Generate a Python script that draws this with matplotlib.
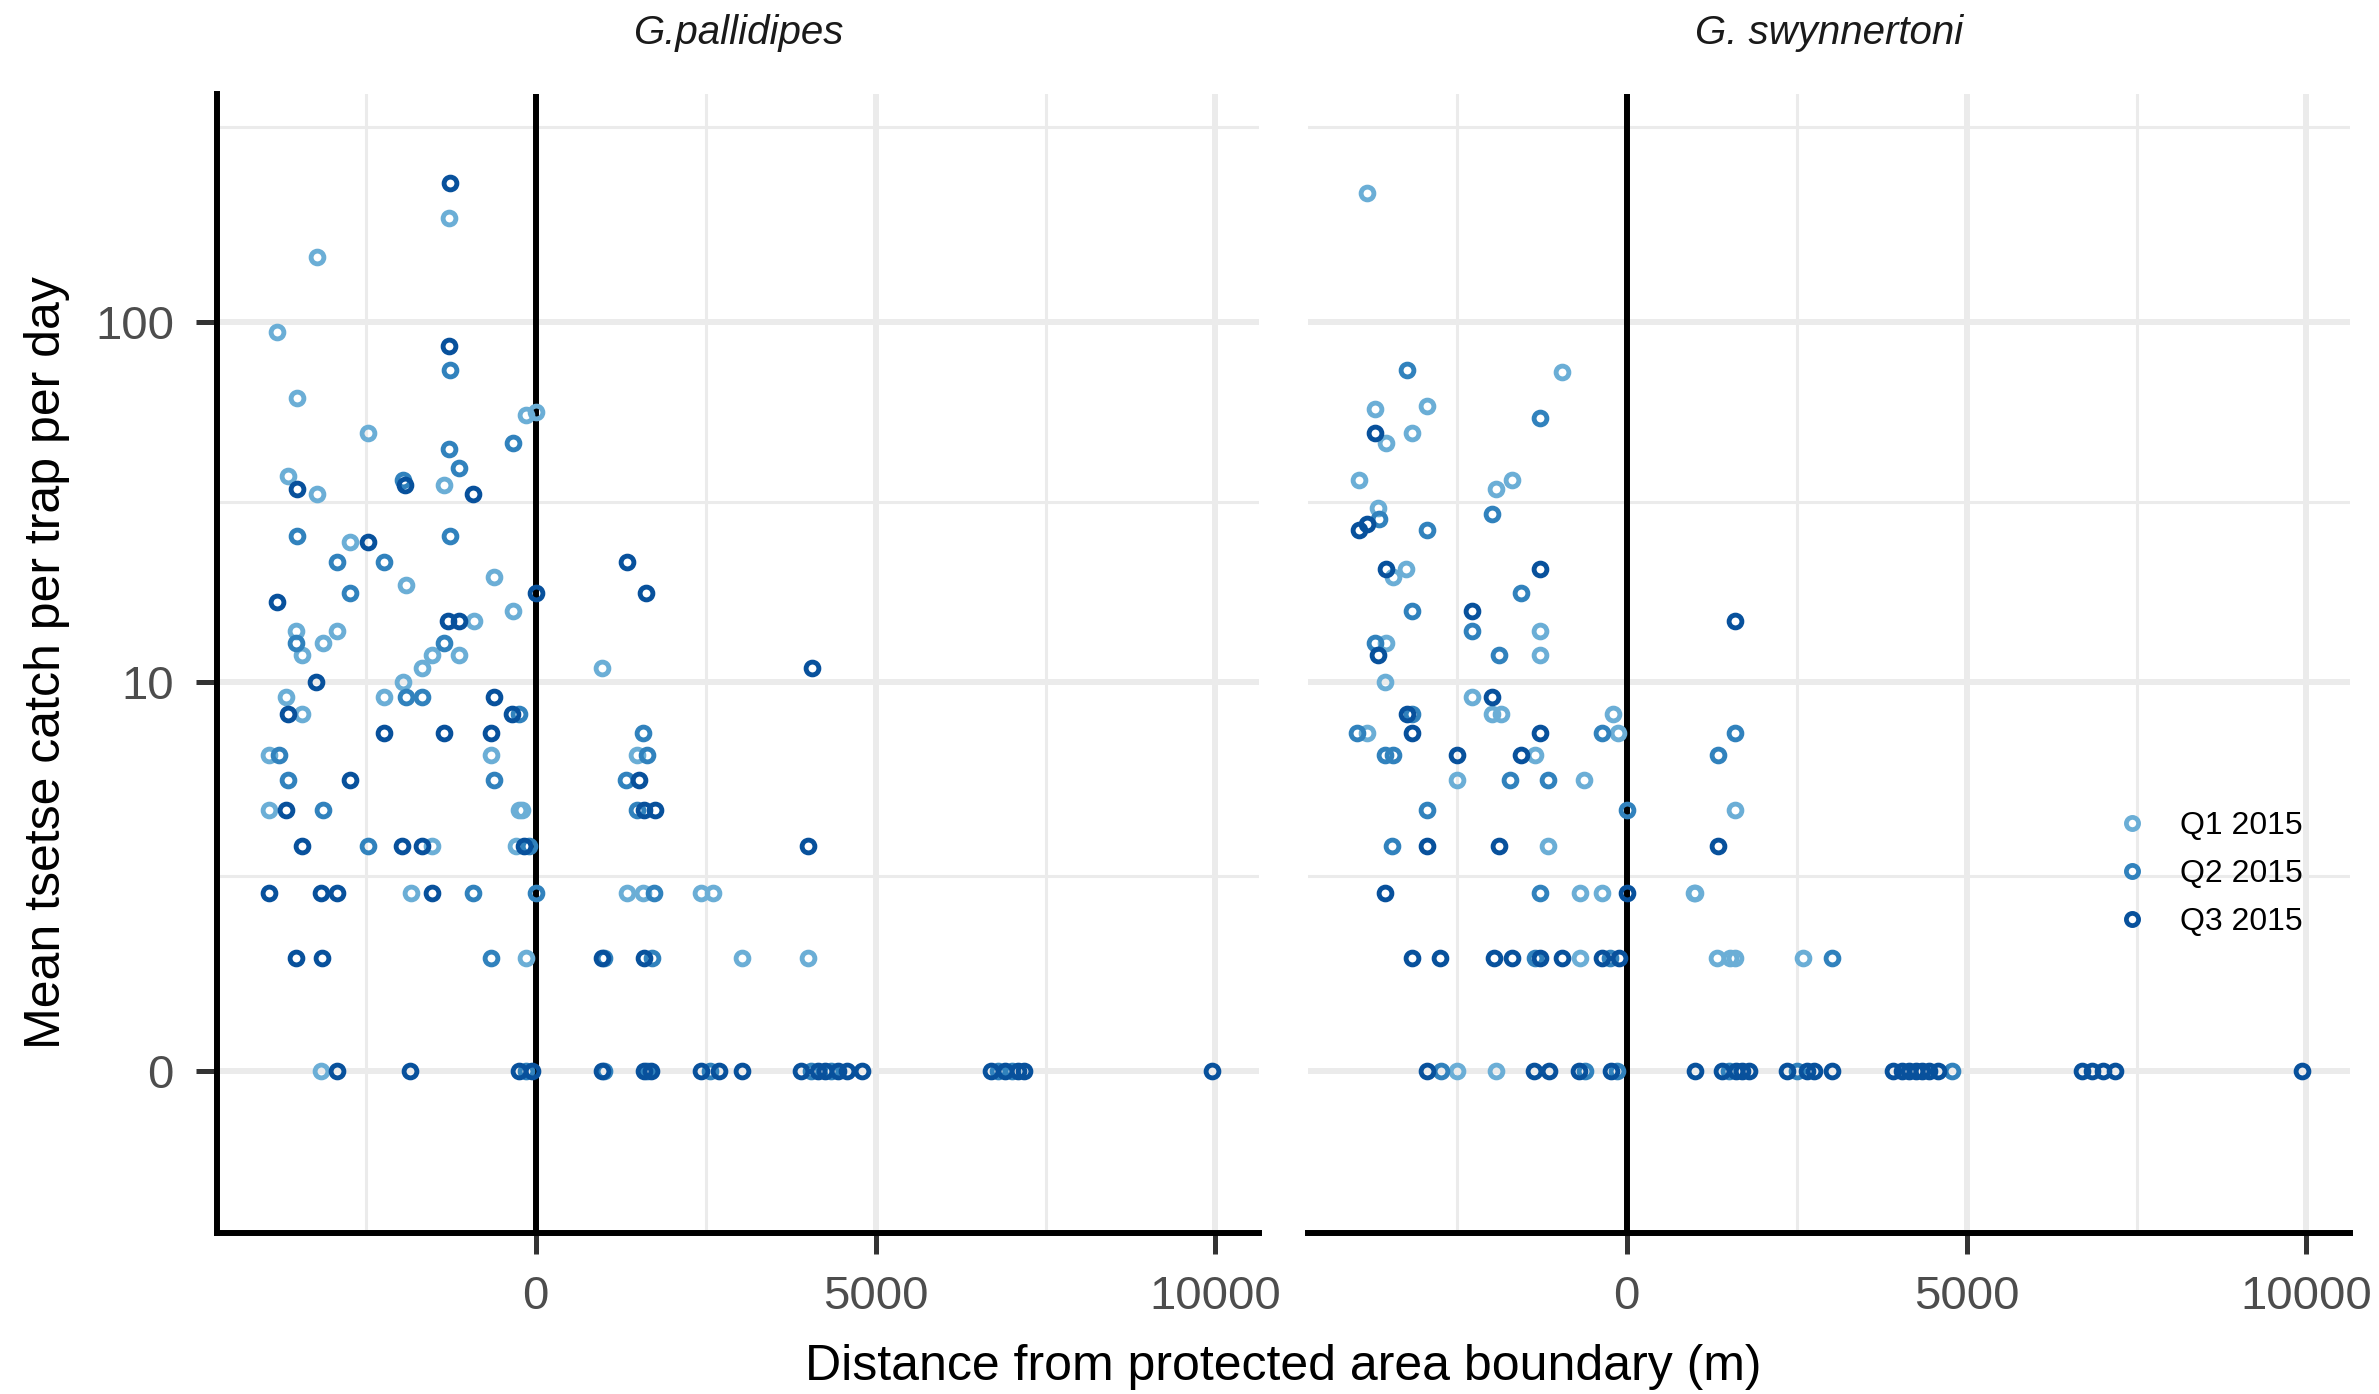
import numpy as np
import matplotlib
matplotlib.use("Agg")
import matplotlib.pyplot as plt
from matplotlib.ticker import FixedLocator, NullFormatter
from matplotlib.lines import Line2D

plt.rcParams['font.family'] = ['Liberation Sans', 'DejaVu Sans']

# ---------------- data ----------------
PANELS = ["G.pallidipes", "G. swynnertoni"]
QUARTERS = ["Q1 2015", "Q2 2015", "Q3 2015"]
COLORS = ["#6baed6", "#3182bd", "#08519c"]

# G. pallidipes
pal_q1_x = [-1270, -3225, -3800, -3515, -147, 0, -2470, -3652, -3225, -1348, -2735, -622, -1912,
            -328, -916, -3529, -3446, -3137, -2926, -1529, -1681, -1128, 981, -1960, -3676, -3446,
            -2240, -3922, -662, -3922, -245, -196, -1520, -294, -1838, -147, 1495, 1348, 1583,
            2426, 2613, 3039, 4010, -3162]
pal_q1_y = [191, 150, 94, 62, 56, 57, 50, 38, 34, 36, 25, 20, 19,
            16, 15, 14, 12, 13, 14, 12, 11, 12, 11, 10, 9, 8,
            9, 6, 6, 4, 4, 4, 3, 3, 2, 1, 6, 2, 2,
            2, 2, 1, 1, 0]

pal_q2_x = [-1265, -334, -1275, -1128, -1960, -3515, -1265, -2926, -2240, -2730, -3529, -1348,
            -1912, -1681, -245, -3784, -3652, -622, -3137, -2470, -98, -922, 0, -662, 1583, 1642,
            1323, 1495, 1740, 1716, 1005, -150, 1000, 1640, 2560, 4050, 4350, 6800, 7000]
pal_q2_y = [74, 47, 45, 40, 37, 26, 26, 22, 22, 18, 13, 13,
            9, 9, 8, 6, 5, 5, 4, 3, 3, 2, 2, 1, 7, 6,
            5, 4, 2, 1, 1, 0, 0, 0, 0, 0, 0, 0, 0]

pal_q3_x = [-1265, -1275, -3515, -1922, -922, -2470, 0, -3800, -1290, -1128, -3235, -3652, -622,
            -343, -2240, -1348, -662, -2730, -3676, -3446, -1975, -1681, -172, -3922, -3162, -2926,
            -1520, -3529, -3152, 981, 1348, 1628, 4069, 1520, 1593, 1750, 4010, 1593,
            -2926, -1848, -250, -60, 981, 1590, 1700, 2430, 2700, 3039, 3900, 4150, 4250, 4450,
            4580, 4794, 6700, 6900, 7100, 7180, 9951]
pal_q3_y = [237, 86, 35, 36, 34, 25, 18, 17, 15, 15, 10, 8, 9,
            8, 7, 7, 7, 5, 4, 3, 3, 3, 3, 2, 2, 2,
            2, 1, 1, 1, 22, 18, 11, 5, 4, 4, 3, 1,
            0, 0, 0, 0, 0, 0, 0, 0, 0, 0, 0, 0, 0, 0,
            0, 0, 0, 0, 0, 0, 0]

# G. swynnertoni
swy_q1_x = [-3819, -951, -3706, -2946, -3540, -3166, -3941, -1687, -1931, -3662, -3245, -3441,
            -1284, -3540, -1284, -3559, -2275, -1990, -1857, -3819, -206, -128, -1353, -2496,
            -632, -1157, -681, -363, 985, -681, 1598, 1000, 1328, 1525, 1598, 2588, -2496, -1931]
swy_q1_y = [222, 73, 58, 59, 47, 50, 37, 37, 35, 31, 21, 20,
            14, 13, 12, 10, 9, 8, 8, 7, 8, 7, 6, 5,
            5, 3, 2, 2, 2, 1, 4, 2, 1, 1, 1, 1, 0, 0]

swy_q2_x = [-3240, -1284, -1990, -3647, -2946, -1549, -3166, -2275, -3706, -1882, -3166, -3966,
            -363, -3559, -3441, -1725, -1157, -2937, 0, -3451, -1284, -1343, -240, 1598, 1343,
            3019, -2740, -620, -150, 1500, 2500, 4784]
swy_q2_y = [74, 55, 30, 29, 27, 18, 16, 14, 13, 12, 8, 7,
            7, 6, 6, 5, 5, 4, 4, 3, 2, 1, 1, 7, 6,
            1, 0, 0, 0, 0, 0, 0]

swy_q3_x = [-3706, -3819, -3941, -3549, -1284, -2275, -3662, -1990, -3240, -3166, -1284, -2496,
            -1563, -2937, -1882, -3559, 0, -3157, -2754, -1956, -1696, -1284, -951, -363, -108,
            1598, 1343, -2937, -1368, -1147, -700, -230, 1000, 1400, 1600, 1700, 1800, 2350,
            2650, 2760, 3019, 3920, 4050, 4150, 4250, 4350, 4450, 4580, 6700, 6850, 7000, 7180,
            9931]
swy_q3_y = [50, 28, 27, 21, 21, 16, 12, 9, 8, 7, 7, 6,
            6, 3, 3, 2, 2, 1, 1, 1, 1, 1, 1, 1, 1,
            15, 3, 0, 0, 0, 0, 0, 0, 0, 0, 0, 0, 0,
            0, 0, 0, 0, 0, 0, 0, 0, 0, 0, 0, 0, 0, 0,
            0]

SERIES = [
    [(pal_q1_x, pal_q1_y), (pal_q2_x, pal_q2_y), (pal_q3_x, pal_q3_y)],
    [(swy_q1_x, swy_q1_y), (swy_q2_x, swy_q2_y), (swy_q3_x, swy_q3_y)],
]

Y_BREAKS = [0, 10, 100]
X_BREAKS = [0, 5000, 10000]
X_MINOR = [-2500, 2500, 7500]
X_LIM = (-4690, 10640)
T_LIM = (-0.434, 2.614)   # limits in log10(y+1) space

# ---------------- figure ----------------
W, H, DPI = 2379, 1394, 100
fig = plt.figure(figsize=(W / DPI, H / DPI), dpi=DPI)


def px_axes(l, t, r, b):
    return fig.add_axes([l / W, 1 - b / H, (r - l) / W, (b - t) / H])


def fwd(y):
    y = np.asarray(y, dtype=float)
    return np.log10(np.clip(y + 1, 1e-12, None))


def inv(t):
    return 10 ** np.asarray(t, dtype=float) - 1


# ggplot-style minor breaks (midpoints in transformed space)
tb = fwd(Y_BREAKS)
bd = tb[1] - tb[0]
tb_ext = np.concatenate([[tb[0] - bd], tb, [tb[-1] + bd]])
y_minor = inv((tb_ext[:-1] + tb_ext[1:]) / 2)

axes = [px_axes(217, 94, 1259, 1233), px_axes(1308, 94, 2350, 1233)]
LW_AXIS = 4.3
for i, ax in enumerate(axes):
    ax.set_yscale('function', functions=(fwd, inv))
    ax.set_xlim(*X_LIM)
    ax.set_ylim(inv(T_LIM[0]), inv(T_LIM[1]))
    ax.set_axisbelow(True)
    ax.yaxis.set_major_locator(FixedLocator(Y_BREAKS))
    ax.yaxis.set_minor_locator(FixedLocator(y_minor))
    ax.yaxis.set_minor_formatter(NullFormatter())
    ax.xaxis.set_major_locator(FixedLocator(X_BREAKS))
    ax.xaxis.set_minor_locator(FixedLocator(X_MINOR))
    ax.xaxis.set_minor_formatter(NullFormatter())
    ax.grid(which='major', color='#ebebeb', lw=4.3)
    ax.grid(which='minor', color='#ebebeb', lw=2.2)
    ax.tick_params(which='minor', length=0)
    ax.tick_params(which='major', direction='out', length=15, width=3.6, color='#333333',
                   labelsize=34, labelcolor='#4d4d4d', pad=15)
    for s in ['top', 'right']:
        ax.spines[s].set_visible(False)
    ax.spines['bottom'].set_linewidth(LW_AXIS)
    ax.spines['bottom'].set_color('black')
    if i == 0:
        ax.spines['left'].set_linewidth(LW_AXIS)
        ax.spines['left'].set_color('black')
        ax.tick_params(axis='y', pad=16)
    else:
        ax.spines['left'].set_visible(False)
        ax.tick_params(axis='y', which='both', left=False, labelleft=False)
    ax.axvline(0, color='black', lw=LW_AXIS, zorder=1.5)
    for (xs, ys), c in zip(SERIES[i], COLORS):
        ax.plot(xs, ys, linestyle='none', marker='o', mfc='none', mec=c, ms=9.2, mew=3.5,
                zorder=3, clip_on=False)
    ax.patch.set_alpha(0)

fig.text(738 / W, 1 - 33 / H, PANELS[0], ha='center', va='center', fontsize=29,
         style='italic', color='#1a1a1a')
fig.text(1829 / W, 1 - 33 / H, PANELS[1], ha='center', va='center', fontsize=29,
         style='italic', color='#1a1a1a')

fig.text(1283 / W, 1 - 1367 / H, "Distance from protected area boundary (m)", ha='center',
         va='center', fontsize=36, color='black')
fig.text(47 / W, 1 - 663 / H, "Mean tsetse catch per trap per day", ha='center',
         va='center', rotation=90, fontsize=36, color='black')

handles = [Line2D([], [], linestyle='none', marker='o', mfc='none', mec=c, ms=8.8, mew=3.4)
           for c in COLORS]
fig.legend(handles, QUARTERS, loc='center left', bbox_to_anchor=(2116 / W, 1 - 874 / H),
           frameon=False, fontsize=23, handlelength=1.0, handletextpad=1.0,
           labelspacing=0.57, borderpad=0, borderaxespad=0)

fig.savefig("out.png", dpi=DPI)
